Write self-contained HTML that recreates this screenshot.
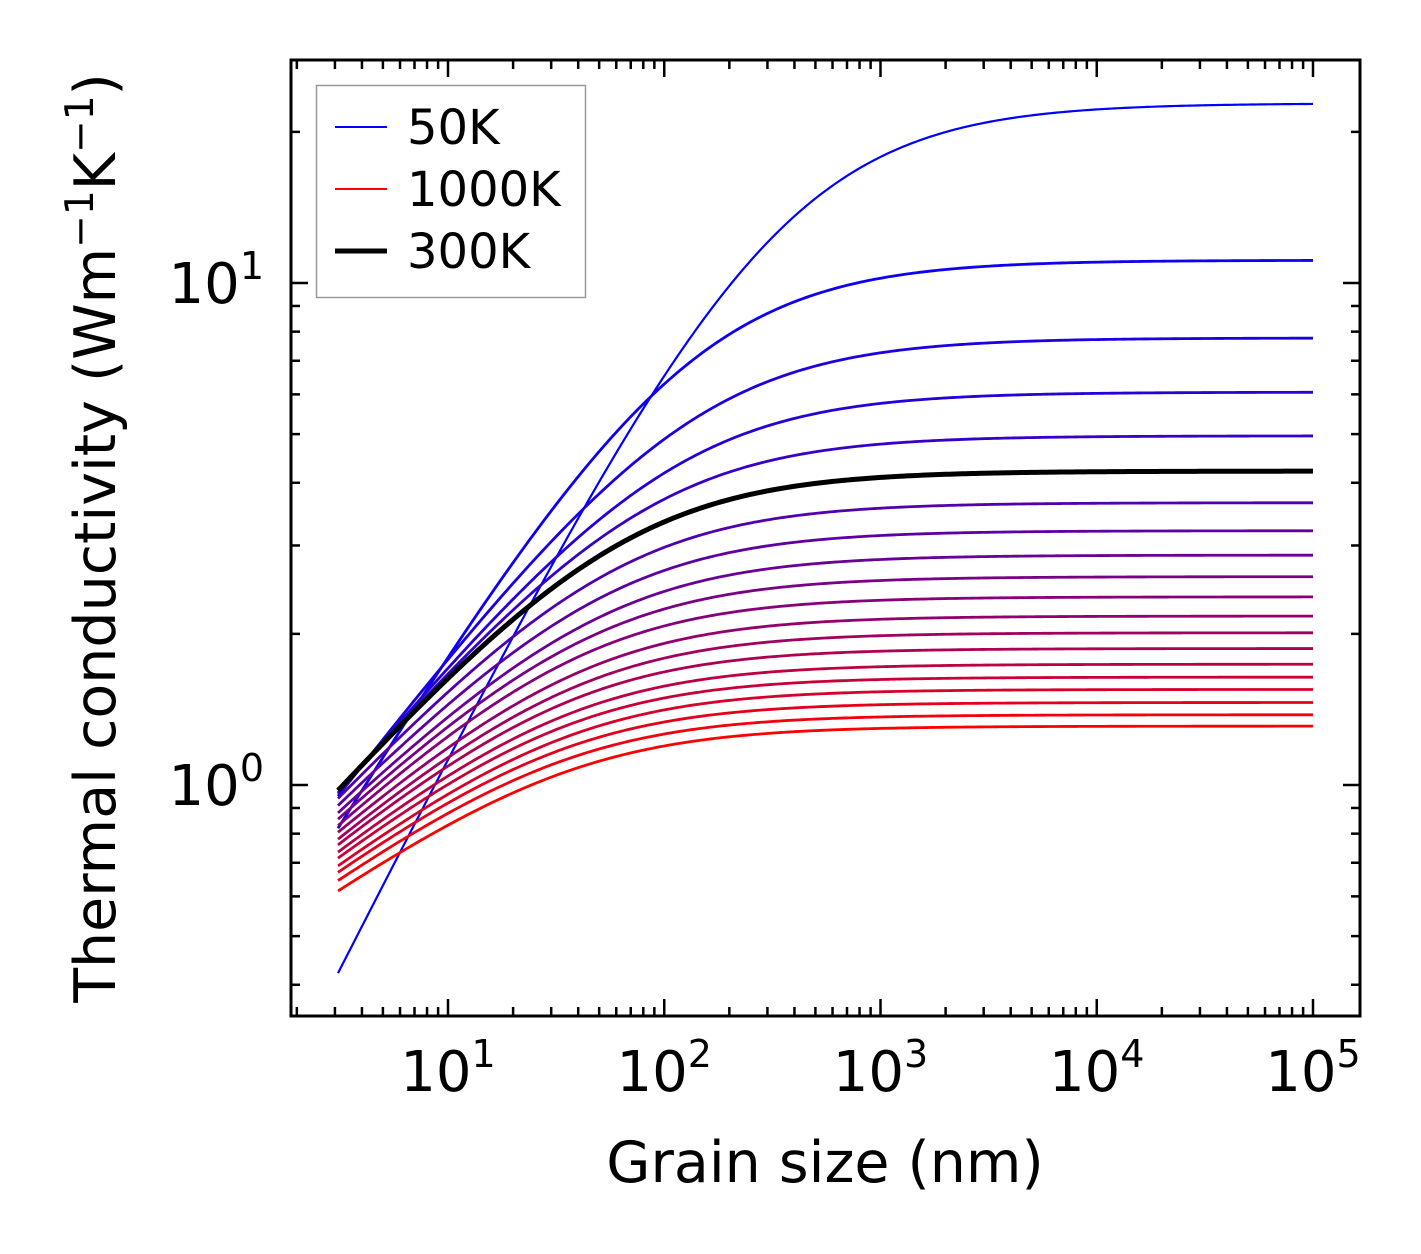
<!DOCTYPE html>
<html><head><meta charset="utf-8"><style>
html,body{margin:0;padding:0;background:#fff;}
svg{display:block;font-family:"DejaVu Sans","Liberation Sans",sans-serif;}
</style></head><body>
<svg id="chart" width="1421" height="1254" viewBox="0 0 1421 1254">
<rect x="0" y="0" width="1421" height="1254" fill="#fff"/>
<g id="curves"></g>
<g id="axes"></g>
<text x="825" y="1182" font-size="57" text-anchor="middle">Grain size (nm)</text>
<text transform="translate(115,538) rotate(-90)" font-size="57" text-anchor="middle">Thermal conductivity (Wm<tspan dy="-22" font-size="39">−1</tspan><tspan dy="22">K</tspan><tspan dy="-22" font-size="39">−1</tspan><tspan dy="22">)</tspan></text>
<g>
<rect x="316.5" y="85.5" width="269" height="212" fill="#fff" stroke="#999" stroke-width="1.5"/>
<line x1="335" y1="127" x2="387" y2="127" stroke="#0000ff" stroke-width="2"/>
<text x="407" y="144" font-size="48">50K</text>
<line x1="335" y1="189" x2="387" y2="189" stroke="#ff0000" stroke-width="2"/>
<text x="407" y="206" font-size="48">1000K</text>
<line x1="335" y1="251" x2="387" y2="251" stroke="#000" stroke-width="5"/>
<text x="407" y="268" font-size="48">300K</text>
</g>
</svg>
<script>
const temperatures = [50,100,150,200,250,300,350,400,450,500,550,600,650,700,750,800,850,900,950,1000];
const bulkConductivity = [22.8,11.1,7.77,6.06,4.96,4.22,3.65,3.21,2.87,2.60,2.37,2.17,2.01,1.87,1.74,1.64,1.55,1.46,1.38,1.31];
const startConductivity = [0.422,0.82,0.95,0.96,0.965,0.975,0.94,0.91,0.88,0.855,0.83,0.805,0.78,0.76,0.735,0.715,0.69,0.67,0.645,0.615];
const shapeExponent = [0.85,0.7,0.56,0.52,0.5,0.48,0.46,0.44,0.42,0.41,0.4,0.38,0.37,0.36,0.35,0.34,0.33,0.32,0.31,0.30];
const grainMin = 3.1, grainMax = 1e5;
const xTickLabels = ["1","2","3","4","5"];
const yTickLabels = ["0","1"];

const NS="http://www.w3.org/2000/svg";
const L=291,R=1360,T=60,B=1016;
function xs(v){return 448+(Math.log10(v)-1)*216.25;}
function ys(v){return 785-Math.log10(v)*502;}
const curves=document.getElementById('curves');
const axes=document.getElementById('axes');
function mk(tag,attrs,parent){const e=document.createElementNS(NS,tag);for(const k in attrs)e.setAttribute(k,attrs[k]);parent.appendChild(e);return e;}

const n=temperatures.length;
const order=[];for(let i=0;i<n;i++)if(temperatures[i]!==300)order.push(i);
order.push(temperatures.indexOf(300));
order.forEach(i=>{
  const kb=bulkConductivity[i],k0=startConductivity[i],p=shapeExponent[i];
  const Lc=grainMin*(Math.pow(kb/k0,1/p)-1);
  let d="";
  for(let s=0;s<=300;s++){
    const lg=Math.log10(grainMin)+(Math.log10(grainMax)-Math.log10(grainMin))*s/300;
    const g=Math.pow(10,lg);
    const k=kb/Math.pow(1+Lc/g,p);
    d+=(s?"L":"M")+xs(g).toFixed(2)+" "+ys(k).toFixed(2);
  }
  const f=i/(n-1);
  const col=temperatures[i]===300?"#000":"rgb("+Math.round(255*f)+",0,"+Math.round(255*(1-f))+")";
  const w=temperatures[i]===300?5:(i===0?2.2:2.8);
  const el=mk('path',{d:d,fill:'none',stroke:col,'stroke-width':w,'stroke-linejoin':'round'},curves);
  
  
});

const frame=mk('rect',{x:L,y:T,width:R-L,height:B-T,fill:'none',stroke:'#000','stroke-width':3},axes);



for(let dec=0;dec<=5;dec++){
  for(let m=1;m<10;m++){
    const v=m*Math.pow(10,dec);const x=xs(v);
    if(x<L+2||x>R-2)continue;
    const len=m===1?17:9;
    const t1=mk('line',{x1:x,y1:B,x2:x,y2:B-len,stroke:'#000','stroke-width':2.5},axes);
    
    
    const t2=mk('line',{x1:x,y1:T,x2:x,y2:T+len,stroke:'#000','stroke-width':2.5},axes);
    
    
  }
}
xTickLabels.forEach(e=>{
  const x=xs(Math.pow(10,+e));
  const t=mk('text',{x:x,y:1091,'font-size':56,'text-anchor':'middle'},axes);
  
  
  t.innerHTML='10<tspan dy="-24" font-size="38">'+e+'</tspan>';
});
for(let dec=-1;dec<=1;dec++){
  for(let m=1;m<10;m++){
    const v=m*Math.pow(10,dec);const y=ys(v);
    if(y<T+2||y>B-2)continue;
    const len=m===1?17:9;
    const t1=mk('line',{x1:L,y1:y,x2:L+len,y2:y,stroke:'#000','stroke-width':2.5},axes);
    
    
    const t2=mk('line',{x1:R,y1:y,x2:R-len,y2:y,stroke:'#000','stroke-width':2.5},axes);
    
    
  }
}
yTickLabels.forEach(e=>{
  const y=ys(Math.pow(10,+e));
  const t=mk('text',{x:264,y:y+20,'font-size':56,'text-anchor':'end'},axes);
  
  
  t.innerHTML='10<tspan dy="-24" font-size="38">'+e+'</tspan>';
});
</script>
</body></html>
